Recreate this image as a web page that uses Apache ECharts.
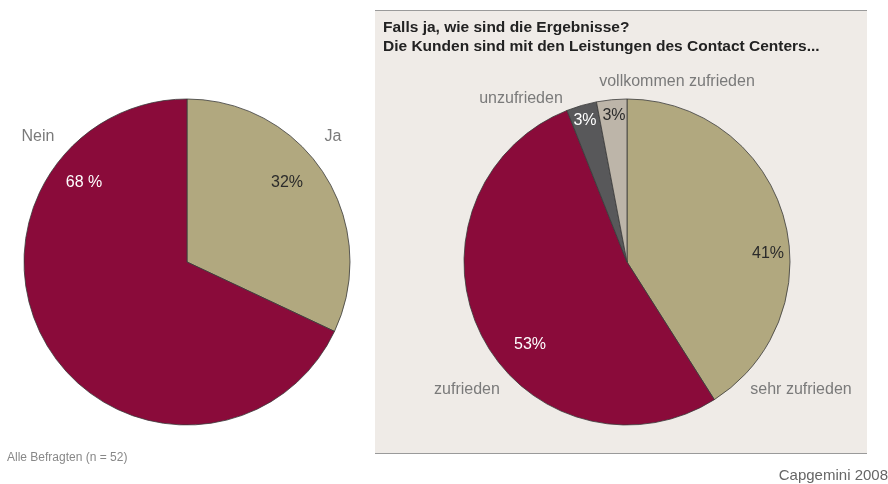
<!DOCTYPE html>
<html>
<head>
<meta charset="utf-8">
<script src="https://cdn.jsdelivr.net/npm/echarts@6/dist/echarts.min.js"></script>
<style>
  html, body { margin: 0; padding: 0; background: #fff; }
  #chart { width: 888px; height: 484px; }
</style>
</head>
<body>
<div id="chart"></div>
<script>
// left pie: all respondents
const leftNames = ["Ja", "Nein"];
const leftValues = [32, 68];
const leftPctLabels = ["32%", "68 %"];

// right pie: results
const rightNames = ["sehr zufrieden", "zufrieden", "unzufrieden", "vollkommen zufrieden"];
const rightValues = [41, 53, 3, 3];
const rightPctLabels = ["41%", "53%", "3%", "3%"];

const titleLines = ["Falls ja, wie sind die Ergebnisse?", "Die Kunden sind mit den Leistungen des Contact Centers..."];
const footNote = "Alle Befragten (n = 52)";
const sourceNote = "Capgemini 2008";

const FONT = "Liberation Sans, Arial, sans-serif";
const RED = "#8a0b3a";
const KHAKI = "#b1a87f";
const DARK = "#58585a";
const TAUPE = "#bdb5a9";

// label anchor points (pixels)
const leftPctPos = [[287, 183], [84, 183]];
const rightPctPos = [[768, 254], [530, 345], [585, 121], [614, 116]];
const leftNamePos = [[333, 137], [38, 137]];
const rightNamePos = [[801, 390], [467, 390], [521, 99], [677, 82]];

const chart = echarts.init(document.getElementById("chart"));

const pieBase = {
  type: "pie",
  radius: 163,
  startAngle: 90,
  clockwise: true,
  silent: true,
  animation: false,
  itemStyle: { borderColor: "#3a3a3a", borderWidth: 0.8 },
  labelLine: { show: false },
};

const nameTexts = [];
leftNames.forEach((n, i) => {
  nameTexts.push({
    type: "text", x: leftNamePos[i][0], y: leftNamePos[i][1],
    style: { text: n, fill: "#7a7a7a", font: "16px " + FONT, align: "center", verticalAlign: "middle" },
  });
});
rightNames.forEach((n, i) => {
  nameTexts.push({
    type: "text", x: rightNamePos[i][0], y: rightNamePos[i][1],
    style: { text: n, fill: "#7a7a7a", font: "16px " + FONT, align: "center", verticalAlign: "middle" },
  });
});

const option = {
  backgroundColor: "#fff",
  graphic: [
    { type: "rect", z: -10, shape: { x: 375, y: 10, width: 492, height: 443 }, style: { fill: "#efebe7" } },
    { type: "line", z: -9, shape: { x1: 375, y1: 10.5, x2: 867, y2: 10.5 }, style: { stroke: "#9a9a9a", lineWidth: 1 } },
    { type: "line", z: -9, shape: { x1: 375, y1: 453.5, x2: 867, y2: 453.5 }, style: { stroke: "#9a9a9a", lineWidth: 1 } },
    {
      type: "text", x: 383, y: 18,
      style: { text: titleLines.join("\n"), fill: "#222", font: "bold 15.5px " + FONT, lineHeight: 19 },
    },
    { type: "text", x: 7, y: 458, style: { text: footNote, fill: "#888", font: "12px " + FONT, verticalAlign: "middle" } },
    { type: "text", x: 888, y: 476, style: { text: sourceNote, fill: "#666", font: "15px " + FONT, align: "right", verticalAlign: "middle" } },
    ...nameTexts,
  ],
  series: [
    Object.assign({}, pieBase, {
      center: [187, 262],
      data: leftNames.map((n, i) => ({
        name: n, value: leftValues[i],
        itemStyle: { color: i === 0 ? KHAKI : RED },
        label: { color: i === 0 ? "#2b2b2b" : "#fff" },
      })),
      label: {
        show: true, position: "inside", fontFamily: FONT, fontSize: 16,
        formatter: (p) => leftPctLabels[p.dataIndex],
      },
      labelLayout: (p) => ({ x: leftPctPos[p.dataIndex][0], y: leftPctPos[p.dataIndex][1], align: "center", verticalAlign: "middle" }),
    }),
    Object.assign({}, pieBase, {
      center: [627, 262],
      data: rightNames.map((n, i) => ({
        name: n, value: rightValues[i],
        itemStyle: { color: [KHAKI, RED, DARK, TAUPE][i] },
        label: { color: ["#2b2b2b", "#fff", "#fff", "#2b2b2b"][i] },
      })),
      label: {
        show: true, position: "inside", fontFamily: FONT, fontSize: 16,
        formatter: (p) => rightPctLabels[p.dataIndex],
      },
      labelLayout: (p) => ({ x: rightPctPos[p.dataIndex][0], y: rightPctPos[p.dataIndex][1], align: "center", verticalAlign: "middle" }),
    }),
  ],
};

chart.setOption(option);
</script>
</body>
</html>
